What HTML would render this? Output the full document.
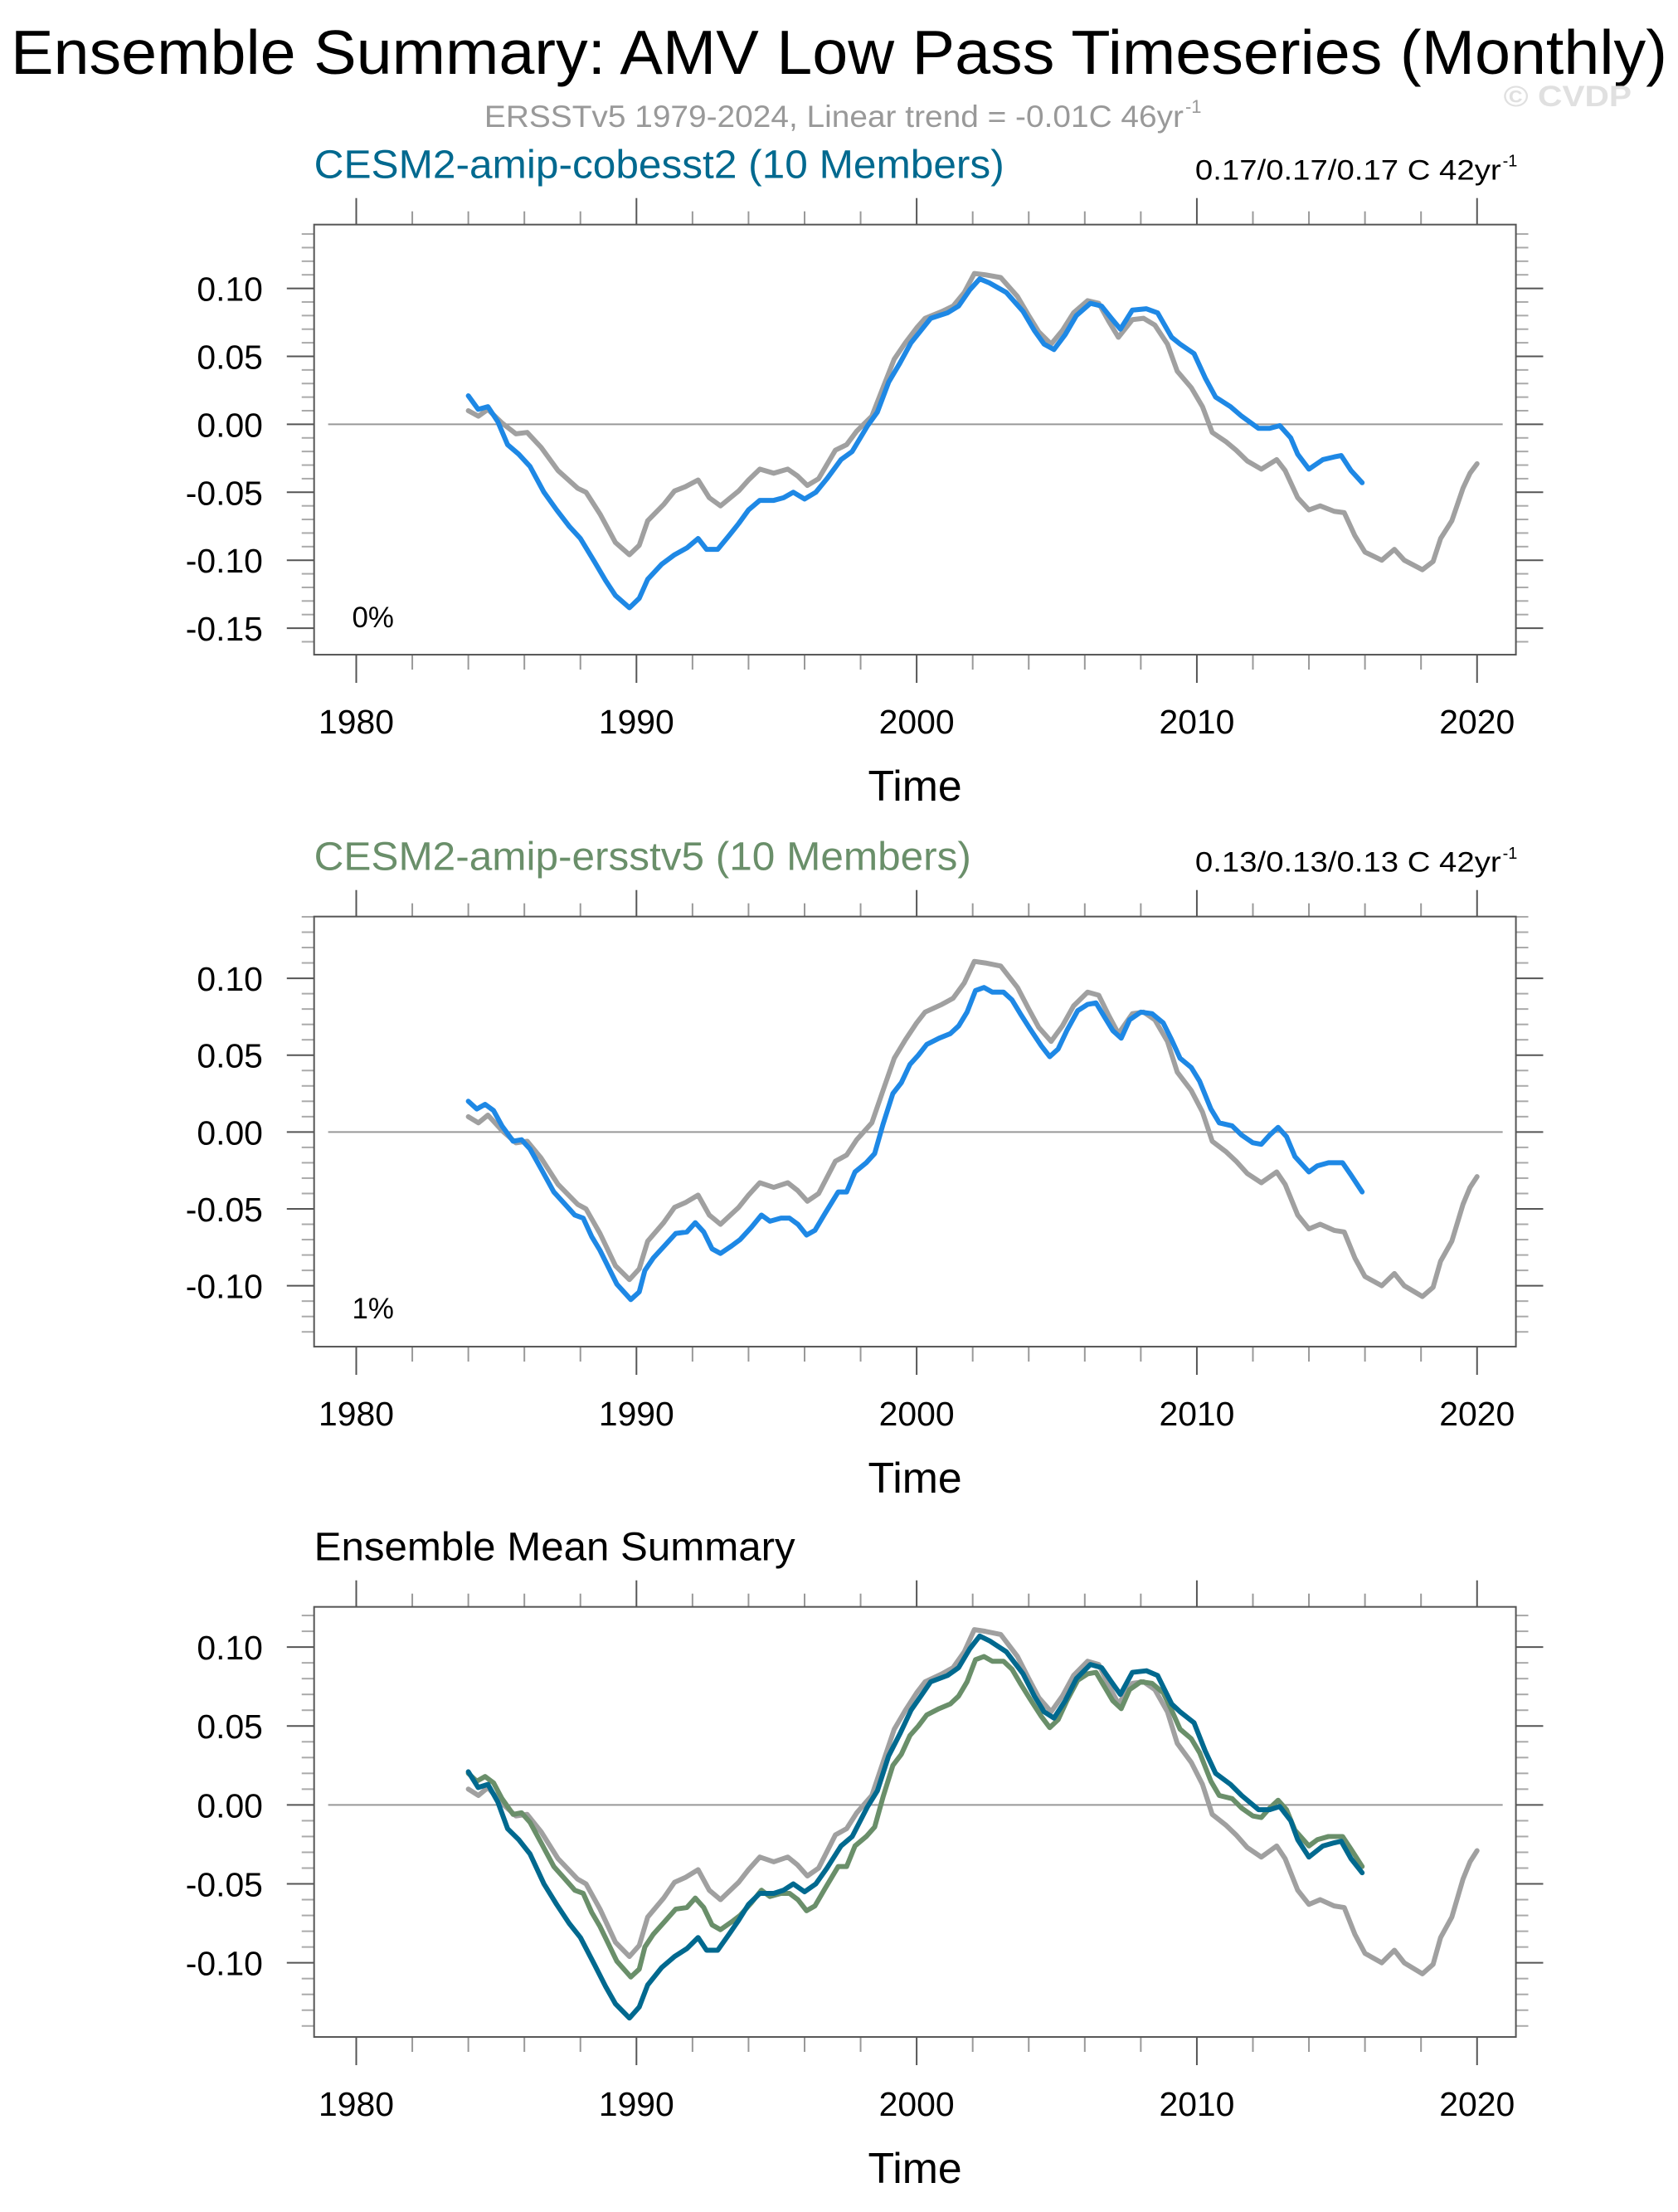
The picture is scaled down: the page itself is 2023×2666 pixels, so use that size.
<!DOCTYPE html>
<html><head><meta charset="utf-8"><style>
html,body{margin:0;padding:0;background:#fff;}
svg{display:block;font-family:"Liberation Sans",Arial,sans-serif;}
</style></head><body>
<svg id="chart" xmlns="http://www.w3.org/2000/svg" width="2023" height="2666" viewBox="0 0 2023 2666">
<g transform="scale(0.9965,0.9988)">
<text x="13" y="89" font-size="75" textLength="2004" lengthAdjust="spacingAndGlyphs">Ensemble Summary: AMV Low Pass Timeseries (Monthly)</text>
<text x="586" y="153" font-size="37" fill="#999" textLength="846" lengthAdjust="spacingAndGlyphs">ERSSTv5 1979-2024, Linear trend = -0.01C 46yr</text>
<text x="1434" y="136" font-size="22" fill="#999">-1</text>
<text x="1819" y="128" font-size="35" font-weight="bold" fill="#e0e0e0" textLength="155" lengthAdjust="spacingAndGlyphs">© CVDP</text>
<g id="plots"></g>
</g>
</svg>
<script>
// ---- data ----
const obsYears=[1984.0,1984.36,1984.7,1985.2,1985.7,1986.1,1986.6,1987.2,1987.9,1988.2,1988.7,1989.25,1989.75,1990.1,1990.4,1990.97,1991.36,1991.74,1992.2,1992.6,1993.0,1993.65,1994.0,1994.4,1994.9,1995.4,1995.75,1996.1,1996.5,1997.1,1997.5,1997.86,1998.4,1998.8,1999.2,1999.6,2000.0,2000.3,2000.9,2001.3,2001.7,2002.06,2002.45,2003.0,2003.6,2004.0,2004.36,2004.8,2005.2,2005.6,2006.1,2006.5,2006.85,2007.2,2007.7,2008.1,2008.5,2008.95,2009.3,2009.8,2010.2,2010.55,2011.05,2011.4,2011.8,2012.3,2012.85,2013.15,2013.6,2014.0,2014.4,2014.9,2015.26,2015.64,2016.0,2016.6,2017.05,2017.4,2018.05,2018.43,2018.7,2019.1,2019.5,2019.75,2020.0];
const obsValues=[0.010,0.006,0.011,0.001,-0.007,-0.006,-0.017,-0.034,-0.047,-0.050,-0.066,-0.087,-0.096,-0.089,-0.071,-0.059,-0.049,-0.046,-0.041,-0.054,-0.060,-0.049,-0.041,-0.033,-0.036,-0.033,-0.038,-0.045,-0.040,-0.019,-0.015,-0.005,0.006,0.027,0.048,0.060,0.071,0.078,0.083,0.087,0.097,0.111,0.110,0.108,0.094,0.080,0.068,0.059,0.069,0.082,0.091,0.089,0.076,0.064,0.077,0.078,0.073,0.059,0.039,0.027,0.013,-0.006,-0.013,-0.019,-0.027,-0.033,-0.026,-0.034,-0.054,-0.063,-0.060,-0.064,-0.065,-0.082,-0.094,-0.100,-0.092,-0.100,-0.107,-0.101,-0.084,-0.071,-0.047,-0.036,-0.029];
const cobYears=[1984.0,1984.35,1984.7,1985.05,1985.4,1985.8,1986.2,1986.7,1987.15,1987.6,1988.0,1988.5,1988.9,1989.25,1989.75,1990.1,1990.4,1990.9,1991.36,1991.8,1992.2,1992.5,1992.9,1993.3,1993.65,1994.0,1994.4,1994.9,1995.25,1995.6,1996.0,1996.4,1996.8,1997.3,1997.7,1998.25,1998.6,1999.0,1999.4,1999.8,2000.15,2000.5,2001.1,2001.5,2001.9,2002.25,2002.6,2003.2,2003.8,2004.2,2004.55,2004.9,2005.3,2005.7,2006.2,2006.6,2006.95,2007.27,2007.7,2008.2,2008.6,2009.1,2009.4,2009.9,2010.3,2010.67,2011.2,2011.6,2012.2,2012.6,2012.96,2013.35,2013.6,2014.0,2014.5,2014.9,2015.15,2015.5,2015.9];
const cobValues=[0.021,0.011,0.013,0.002,-0.015,-0.022,-0.031,-0.050,-0.063,-0.075,-0.084,-0.101,-0.115,-0.126,-0.135,-0.128,-0.114,-0.103,-0.096,-0.091,-0.084,-0.092,-0.092,-0.082,-0.073,-0.063,-0.056,-0.056,-0.054,-0.050,-0.055,-0.050,-0.040,-0.026,-0.020,-0.001,0.009,0.031,0.045,0.060,0.069,0.078,0.082,0.087,0.099,0.107,0.104,0.097,0.083,0.069,0.059,0.055,0.066,0.080,0.089,0.087,0.078,0.070,0.084,0.085,0.082,0.064,0.059,0.052,0.034,0.020,0.013,0.006,-0.003,-0.003,-0.001,-0.010,-0.022,-0.033,-0.026,-0.024,-0.023,-0.034,-0.043];
const ersYears=[1984.0,1984.3,1984.6,1984.9,1985.2,1985.6,1985.9,1986.2,1986.6,1987.05,1987.4,1987.8,1988.1,1988.4,1988.7,1989.0,1989.3,1989.8,1990.1,1990.3,1990.6,1991.0,1991.4,1991.8,1992.1,1992.4,1992.7,1993.0,1993.4,1993.7,1994.1,1994.46,1994.76,1995.16,1995.46,1995.76,1996.07,1996.37,1996.73,1997.2,1997.5,1997.8,1998.2,1998.5,1998.8,1999.15,1999.45,1999.76,2000.06,2000.36,2000.8,2001.2,2001.5,2001.8,2002.1,2002.4,2002.7,2003.1,2003.4,2003.7,2004.05,2004.45,2004.75,2005.05,2005.36,2005.75,2006.1,2006.4,2006.7,2007.0,2007.3,2007.6,2008.0,2008.4,2008.8,2009.1,2009.4,2009.8,2010.1,2010.5,2010.8,2011.26,2011.6,2012.0,2012.3,2012.6,2012.9,2013.2,2013.5,2014.0,2014.3,2014.7,2015.2,2015.5,2015.9];
const ersValues=[0.020,0.015,0.018,0.014,0.004,-0.006,-0.005,-0.011,-0.024,-0.039,-0.046,-0.054,-0.056,-0.068,-0.077,-0.088,-0.099,-0.109,-0.104,-0.090,-0.082,-0.074,-0.066,-0.065,-0.059,-0.065,-0.076,-0.079,-0.074,-0.070,-0.062,-0.054,-0.058,-0.056,-0.056,-0.060,-0.067,-0.064,-0.053,-0.039,-0.039,-0.026,-0.020,-0.014,0.005,0.025,0.032,0.044,0.050,0.057,0.061,0.064,0.069,0.078,0.092,0.094,0.091,0.091,0.086,0.077,0.067,0.056,0.049,0.054,0.066,0.079,0.083,0.084,0.075,0.066,0.061,0.073,0.078,0.077,0.071,0.060,0.048,0.042,0.033,0.015,0.006,0.004,-0.002,-0.007,-0.008,-0.002,0.003,-0.003,-0.016,-0.026,-0.022,-0.020,-0.020,-0.028,-0.039];
const xTickLabels=["1980","1990","2000","2010","2020"];
const xTickYears=[1980,1990,2000,2010,2020];
const yTickVals1=[0.10,0.05,0.00,-0.05,-0.10,-0.15];
const yTickVals23=[0.10,0.05,0.00,-0.05,-0.10];

const NS="http://www.w3.org/2000/svg";
const root=document.getElementById('plots');
const X0=380,X1=1834;
const xs=y=>431+(y-1980)*(1787-431)/40;
function mk(tag,attrs,parent){const e=document.createElementNS(NS,tag);for(const k in attrs)e.setAttribute(k,attrs[k]);(parent||root).appendChild(e);return e;}

const panels=[
 {top:271,bot:790,v0y:512,pxPerUnit:1640,yt:yTickVals1,
  title:"CESM2-amip-cobesst2 (10 Members)",tcol:"#00698f",tTop:215,tLen:835,right:"0.17/0.17/0.17 C 42yr",pct:"0%",pctY:757,
  series:[[obsYears,obsValues,"#a0a0a0"],[cobYears,cobValues,"#1e88e5"]]},
 {top:1106,bot:1625,v0y:1366,pxPerUnit:1855,yt:yTickVals23,
  title:"CESM2-amip-ersstv5 (10 Members)",tcol:"#6a8f6a",tTop:1050,tLen:795,right:"0.13/0.13/0.13 C 42yr",pct:"1%",pctY:1591,
  series:[[obsYears,obsValues,"#a0a0a0"],[ersYears,ersValues,"#1e88e5"]]},
 {top:1939,bot:2458,v0y:2178,pxPerUnit:1905,yt:yTickVals23,
  title:"Ensemble Mean Summary",tcol:"#000",tTop:1883,tLen:582,right:null,pct:null,
  series:[[obsYears,obsValues,"#a0a0a0"],[ersYears,ersValues,"#6a8f6a"],[cobYears,cobValues,"#00698f"]]}
];

panels.forEach((p,pi)=>{
  const g=mk('g',{});
  
  
  const ys=v=>p.v0y-v*p.pxPerUnit;
  const t=mk('text',{x:380,y:p.tTop,'font-size':48,fill:p.tcol,textLength:p.tLen,lengthAdjust:'spacingAndGlyphs'},g);
  t.textContent=p.title;
  
  
  if(p.right){
    const r=mk('text',{x:1446,y:p.tTop+2,'font-size':34,textLength:370,lengthAdjust:'spacingAndGlyphs'},g);
    r.textContent=p.right;
    
    
    const s=mk('text',{x:1818,y:p.tTop-14,'font-size':20},g);s.textContent='-1';
    
    
    const pc=mk('text',{x:426,y:p.pctY,'font-size':35},g);pc.textContent=p.pct;
    
    
  }
  for(let yr=1980;yr<=2020;yr+=2){
    const maj=yr%10===0, x=xs(yr);
    const l1=mk('line',{x1:x,x2:x,y1:p.top,y2:p.top-(maj?32:16),stroke:maj?'#555':'#999','stroke-width':2},g);
    
    
    const l2=mk('line',{x1:x,x2:x,y1:p.bot,y2:p.bot+(maj?34:18),stroke:maj?'#555':'#999','stroke-width':2},g);
    
    
  }
  xTickYears.forEach((yr,i)=>{
    const tl=mk('text',{x:xs(yr),y:p.bot+95,'font-size':41,'text-anchor':'middle'},g);
    tl.textContent=xTickLabels[i];
    
    
  });
  const xt=mk('text',{x:1107,y:p.bot+176,'font-size':52,'text-anchor':'middle'},g);
  xt.textContent='Time';
  
  
  const vmin=Math.ceil(-(p.bot-p.v0y)/p.pxPerUnit*100-1e-6), vmax=Math.floor((p.v0y-p.top)/p.pxPerUnit*100+1e-6);
  for(let k=vmin;k<=vmax;k++){
    const maj=k%5===0, y=ys(k/100);
    const a=mk('line',{x1:X0,x2:X0-(maj?33:15),y1:y,y2:y,stroke:maj?'#555':'#aaa','stroke-width':2},g);
    
    
    const b=mk('line',{x1:X1,x2:X1+(maj?33:15),y1:y,y2:y,stroke:maj?'#555':'#aaa','stroke-width':2},g);
    
    
  }
  p.yt.forEach(v=>{
    const tl=mk('text',{x:318,y:ys(v)+15,'font-size':41,'text-anchor':'end'},g);
    tl.textContent=v.toFixed(2);
    
    
  });
  const z=mk('line',{x1:397,x2:1818,y1:ys(0),y2:ys(0),stroke:'#999','stroke-width':2},g);
  
  
  p.series.forEach(([yrs,vals,col],si)=>{
    const d=yrs.map((yr,i)=>(i?'L':'M')+xs(yr).toFixed(1)+' '+ys(vals[i]).toFixed(1)).join(' ');
    const path=mk('path',{d:d,fill:'none',stroke:col,'stroke-width':6,'stroke-linejoin':'round','stroke-linecap':'round'},g);
    
    
  });
  const fr=mk('rect',{x:X0,y:p.top,width:X1-X0,height:p.bot-p.top,fill:'none',stroke:'#555','stroke-width':2},g);
  
  
});
</script>
</body></html>
